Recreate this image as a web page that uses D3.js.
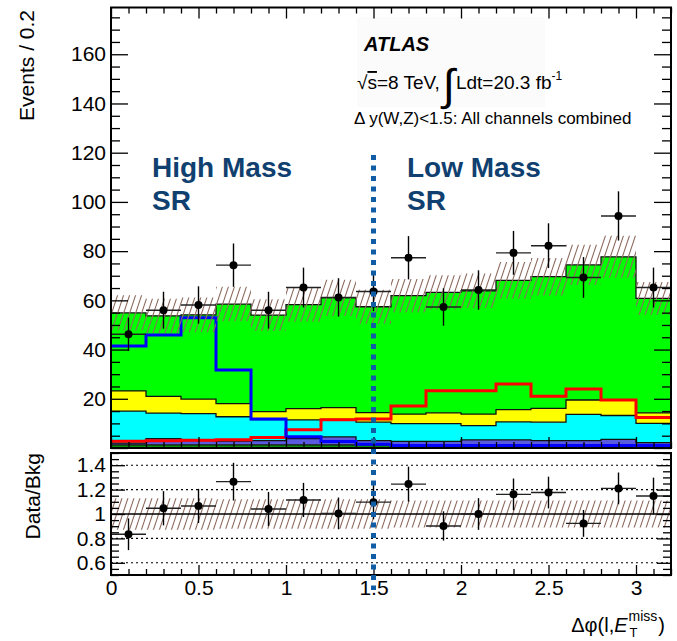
<!DOCTYPE html>
<html><head><meta charset="utf-8">
<script src="https://cdn.jsdelivr.net/npm/d3@7"></script>
<style>
body{margin:0;background:#fff}
svg{display:block}
text{font-family:"Liberation Sans",Arial,Helvetica,sans-serif}
</style>
</head><body>
<svg id="c" width="677" height="641"></svg>
<script>
// ---------------- data ----------------
const binCenters = [0.1,0.3,0.5,0.7,0.9,1.1,1.3,1.5,1.7,1.9,2.1,2.3,2.5,2.7,2.9,3.1];
const binWidth = 0.2;
const bkgDarkGreen = [1.3,1.3,1.3,1.3,1.3,1.3,1.3,1.3,0,0,0,0,0,0,0,0];
const bkgSlate     = [0.7,2.5,1.7,1.5,1.7,2.5,3.2,1.7,2.7,2.7,3.3,3.3,3.0,3.0,3.5,2.2];
const bkgCyan      = [13.0,10.4,11.0,9.9,8.5,7.6,7.1,7.5,7.2,7.2,5.8,7.3,7.5,10.7,9.7,7.8];
const bkgYellow    = [8.2,6.8,5.9,5.3,3.3,4.6,4.8,3.9,3.9,4.4,4.7,5.0,5.6,5.8,6.3,4.3];
const bkgGreen     = [31.7,32.7,34.2,40.5,39.2,42.3,44.6,43.0,48.1,48.9,50.1,52.5,53.5,54.9,58.2,46.5];
const sigHighMass  = [41.4,45.9,52.9,31.7,11.8,4.6,2.6,1.5,1.0,1.0,1.0,1.0,1.0,1.0,1.0,1.0];
const sigLowMass   = [2.7,2.9,3.1,3.4,4.3,7.4,11.5,11.8,17.1,23.3,23.3,26.0,21.0,24.0,19.5,12.4];
const dataVals     = [46.2,56.0,58.1,74.3,56.0,65.2,61.2,63.6,77.3,57.3,64.2,79.3,82.2,69.3,94.3,65.2];
const dataErr      = [6.8,7.5,7.6,8.8,7.5,8.1,7.8,8.0,8.8,7.6,8.0,8.9,9.1,8.3,10.0,8.1];
const relUnc       = [0.13,0.13,0.13,0.12,0.12,0.12,0.12,0.12,0.11,0.11,0.11,0.11,0.11,0.11,0.11,0.11];
const ratioVals    = [0.834,1.047,1.066,1.265,1.041,1.115,1.005,1.097,1.245,0.902,1.0,1.161,1.176,0.923,1.21,1.148];
const ratioErr     = [0.13,0.14,0.14,0.155,0.14,0.14,0.13,0.14,0.143,0.12,0.13,0.13,0.13,0.11,0.13,0.15];
const xTickValues  = [0,0.5,1,1.5,2,2.5,3];
const xTickLabels  = ["0","0.5","1","1.5","2","2.5","3"];
const yTickValues  = [20,40,60,80,100,120,140,160];
const yTickLabels  = ["20","40","60","80","100","120","140","160"];
const rTickValues  = [0.6,0.8,1,1.2,1.4];
const rTickLabels  = ["0.6","0.8","1","1.2","1.4"];
const rGridValues  = [0.6,0.8,1.2,1.4];
const srBoundary   = 1.5;

// ---------------- layout ----------------
const svg = d3.select("#c");
const X0=111, X1=671, YT=7.5, YB=448, RT=453, RB=575;
const x  = d3.scaleLinear().domain([0,3.2]).range([X0,X1]);
const y  = d3.scaleLinear().domain([0,179]).range([YB,YT]);
const yr = d3.scaleLinear().domain([0.5,1.5]).range([RB,RT]);

const defs = svg.append("defs");
const pat = defs.append("pattern").attr("id","hatch").attr("patternUnits","userSpaceOnUse")
  .attr("width",6).attr("height",18);
[[0,6],[-6,0],[6,12]].forEach(([a,b])=>{
  pat.append("line").attr("x1",a).attr("y1",18).attr("x2",b).attr("y2",0)
    .attr("stroke","#8e6b60").attr("stroke-width",1.1);
});
defs.append("clipPath").attr("id","clipMain").append("rect")
  .attr("x",X0).attr("y",YT).attr("width",X1-X0).attr("height",YB-YT);
defs.append("clipPath").attr("id","clipRatio").append("rect")
  .attr("x",X0).attr("y",RT).attr("width",X1-X0).attr("height",RB-RT);
const blur = defs.append("filter").attr("id","glow").attr("x","-200%").attr("width","500%");
blur.append("feGaussianBlur").attr("stdDeviation",3);

// faint text box behind ATLAS label
svg.append("rect").attr("x",357).attr("y",17).attr("width",188).attr("height",90).attr("fill","#fbfbfb");

// ---------------- main panel ----------------
const rows = binCenters.map((c,i)=>({c, darkGreen:bkgDarkGreen[i], slate:bkgSlate[i], cyan:bkgCyan[i], yellow:bkgYellow[i], green:bkgGreen[i]}));
const keys = ["darkGreen","slate","cyan","yellow","green"];
const colors = {darkGreen:"#0b8a0b", slate:"#5a5ade", cyan:"#00ffff", yellow:"#ffff00", green:"#00ff00"};
const stacked = d3.stack().keys(keys)(rows);

function stepPoints(lo, hi){
  const pts=[];
  binCenters.forEach((c,i)=>{
    pts.push({xv:c-binWidth/2, y0:lo[i], y1:hi[i]});
    pts.push({xv:c+binWidth/2, y0:lo[i], y1:hi[i]});
  });
  return pts;
}
const areaMain = d3.area().x(d=>x(d.xv)).y0(d=>y(d.y0)).y1(d=>y(d.y1));
const lineMain = d3.line().x(d=>x(d.xv)).y(d=>y(d.y1));

const gMain = svg.append("g").attr("clip-path","url(#clipMain)");
stacked.forEach(s=>{
  const pts = stepPoints(s.map(d=>d[0]), s.map(d=>d[1]));
  gMain.append("path").attr("d",areaMain(pts)).attr("fill",colors[s.key]).attr("stroke","none");
});
stacked.forEach(s=>{
  const pts = stepPoints(s.map(d=>d[0]), s.map(d=>d[1]));
  gMain.append("path").attr("d",lineMain(pts)).attr("fill","none").attr("stroke","#111").attr("stroke-width",1.3);
});
const totals = stacked[stacked.length-1].map(d=>d[1]);

// signal overlays
const zeros = binCenters.map(()=>0);
gMain.append("path").attr("d",lineMain(stepPoints(zeros,sigLowMass)))
  .attr("fill","none").attr("stroke","#ff0000").attr("stroke-width",3);
gMain.append("path").attr("d",lineMain(stepPoints(zeros,sigHighMass)))
  .attr("fill","none").attr("stroke","#0000ff").attr("stroke-width",3);

// uncertainty band
gMain.append("path").attr("d",areaMain(stepPoints(totals.map((t,i)=>t*(1-relUnc[i])), totals.map((t,i)=>t*(1+relUnc[i])))))
  .attr("fill","url(#hatch)").attr("stroke","none");

// data points
const gData = svg.append("g");
binCenters.forEach((c,i)=>{
  gData.append("line").attr("x1",x(c)).attr("x2",x(c)).attr("y1",y(dataVals[i]-dataErr[i])).attr("y2",y(dataVals[i]+dataErr[i]))
    .attr("stroke","#000").attr("stroke-width",1.4);
  gData.append("line").attr("x1",x(c-binWidth/2)).attr("x2",x(c+binWidth/2)).attr("y1",y(dataVals[i])).attr("y2",y(dataVals[i]))
    .attr("stroke","#222").attr("stroke-width",1.4);
  gData.append("circle").attr("cx",x(c)).attr("cy",y(dataVals[i])).attr("r",4).attr("fill","#000");
});

// ---------------- ratio panel ----------------
const gRatio = svg.append("g").attr("clip-path","url(#clipRatio)");
const areaR = d3.area().x(d=>x(d.xv)).y0(d=>yr(d.y0)).y1(d=>yr(d.y1));
gRatio.append("path").attr("d",areaR(stepPoints(relUnc.map(u=>1-u), relUnc.map(u=>1+u))))
  .attr("fill","url(#hatch)");
rGridValues.forEach(v=>{
  gRatio.append("line").attr("x1",X0).attr("x2",X1).attr("y1",yr(v)).attr("y2",yr(v))
    .attr("stroke","#000").attr("stroke-width",1.1).attr("stroke-dasharray","2,3");
});
gRatio.append("line").attr("x1",X0).attr("x2",X1).attr("y1",yr(1)).attr("y2",yr(1))
  .attr("stroke","#000").attr("stroke-width",1.4);
binCenters.forEach((c,i)=>{
  gRatio.append("line").attr("x1",x(c)).attr("x2",x(c)).attr("y1",yr(ratioVals[i]-ratioErr[i])).attr("y2",yr(ratioVals[i]+ratioErr[i]))
    .attr("stroke","#000").attr("stroke-width",1.4);
  gRatio.append("line").attr("x1",x(c-binWidth/2)).attr("x2",x(c+binWidth/2)).attr("y1",yr(ratioVals[i])).attr("y2",yr(ratioVals[i]))
    .attr("stroke","#222").attr("stroke-width",1.4);
  gRatio.append("circle").attr("cx",x(c)).attr("cy",yr(ratioVals[i])).attr("r",4).attr("fill","#000");
});

// ---------------- frames & axes ----------------
svg.append("rect").attr("x",X0).attr("y",YT).attr("width",X1-X0).attr("height",YB-YT)
  .attr("fill","none").attr("stroke","#000").attr("stroke-width",2);
svg.append("rect").attr("x",X0).attr("y",RT).attr("width",X1-X0).attr("height",RB-RT)
  .attr("fill","none").attr("stroke","#000").attr("stroke-width",2);

function tickGroup(tx,ty,axis){
  const g = svg.append("g").attr("transform",`translate(${tx},${ty})`).call(axis);
  g.select(".domain").remove();
  g.selectAll("line").attr("stroke","#000").attr("stroke-width",1.3);
  return g;
}
const yMajor = d3.range(0,180,20), yMinor = d3.range(0,180,5).filter(v=>v%20!==0);
const xMajor = d3.range(0,3.21,0.5), xMinor = d3.range(0,3.21,0.1).filter(v=>Math.abs(v*2-Math.round(v*2))>0.01);
const rMajor = [0.6,0.8,1.0,1.2,1.4], rMinor = d3.range(0.5,1.501,0.05).filter(v=>!rMajor.some(m=>Math.abs(m-v)<1e-6));

tickGroup(X0,0,d3.axisRight(y).tickValues(yMajor).tickSize(17).tickFormat(""));
tickGroup(X0,0,d3.axisRight(y).tickValues(yMinor).tickSize(9).tickFormat(""));
tickGroup(X1,0,d3.axisLeft(y).tickValues(yMajor).tickSize(17).tickFormat(""));
tickGroup(X1,0,d3.axisLeft(y).tickValues(yMinor).tickSize(9).tickFormat(""));
tickGroup(0,YT,d3.axisBottom(x).tickValues(xMajor).tickSize(11).tickFormat(""));
tickGroup(0,YT,d3.axisBottom(x).tickValues(xMinor).tickSize(6).tickFormat(""));
tickGroup(0,YB,d3.axisTop(x).tickValues(xMajor).tickSize(11).tickFormat(""));
tickGroup(0,YB,d3.axisTop(x).tickValues(xMinor).tickSize(6).tickFormat(""));
tickGroup(X0,0,d3.axisRight(yr).tickValues(rMajor).tickSize(14).tickFormat(""));
tickGroup(X0,0,d3.axisRight(yr).tickValues(rMinor).tickSize(8).tickFormat(""));
tickGroup(X1,0,d3.axisLeft(yr).tickValues(rMajor).tickSize(14).tickFormat(""));
tickGroup(X1,0,d3.axisLeft(yr).tickValues(rMinor).tickSize(8).tickFormat(""));
tickGroup(0,RB,d3.axisTop(x).tickValues(xMajor).tickSize(10).tickFormat(""));
tickGroup(0,RB,d3.axisTop(x).tickValues(xMinor).tickSize(6).tickFormat(""));

function labelGroup(tx,ty,axis){
  const g = svg.append("g").attr("transform",`translate(${tx},${ty})`).call(axis);
  g.select(".domain").remove();
  g.selectAll("line").remove();
  g.selectAll("text").attr("font-size",21).attr("fill","#000")
    .attr("font-family",'"Liberation Sans",Arial,sans-serif');
  return g;
}
labelGroup(X0,0,d3.axisLeft(y).tickValues(yTickValues).tickSize(0).tickPadding(5).tickFormat((d,i)=>yTickLabels[i]));
labelGroup(X0,0,d3.axisLeft(yr).tickValues(rTickValues).tickSize(0).tickPadding(5).tickFormat((d,i)=>rTickLabels[i]));
labelGroup(0,RB,d3.axisBottom(x).tickValues(xTickValues).tickSize(0).tickPadding(5).tickFormat((d,i)=>xTickLabels[i]));

// axis titles
svg.append("text").attr("transform","translate(33.5,10) rotate(-90)").attr("text-anchor","end")
  .attr("font-size",21).text("Events / 0.2");
svg.append("text").attr("transform","translate(39.5,453) rotate(-90)").attr("text-anchor","end")
  .attr("font-size",21).text("Data/Bkg");

// x title: Δφ(l,E_T^miss)
const xt = svg.append("g");
const t1 = xt.append("text").attr("x",0).attr("y",0).attr("font-size",20).text("Δφ(l,");
const w1 = t1.node().getComputedTextLength();
const tE = xt.append("text").attr("x",w1).attr("y",0).attr("font-size",20).attr("font-style","italic").text("E");
const wE = tE.node().getComputedTextLength();
const tM = xt.append("text").attr("x",w1+wE+1).attr("y",-11).attr("font-size",14).text("miss");
const wM = tM.node().getComputedTextLength();
xt.append("text").attr("x",w1+wE+2).attr("y",5).attr("font-size",13).text("T");
const tP = xt.append("text").attr("x",w1+wE+wM+2).attr("y",0).attr("font-size",20).text(")");
const wTot = w1+wE+wM+2+tP.node().getComputedTextLength();
xt.attr("transform",`translate(${665-wTot},632)`);

// ATLAS labels
svg.append("text").attr("x",364).attr("y",51).attr("font-size",20).attr("font-weight","bold").attr("font-style","italic").text("ATLAS");
const lumi = svg.append("g");
const s1 = lumi.append("text").attr("x",357).attr("y",89).attr("font-size",19);
s1.append("tspan").text("√");
s1.append("tspan").attr("text-decoration","overline").text("s");
s1.append("tspan").text("=8 TeV,");
const ws1 = s1.node().getComputedTextLength();
const integ = lumi.append("text").attr("x",357+ws1+3).attr("y",100).attr("font-size",44).text("∫");
const wi = integ.node().getComputedTextLength();
const s2 = lumi.append("text").attr("x",357+ws1+3+wi+1).attr("y",89).attr("font-size",19);
s2.append("tspan").text("Ldt=20.3 fb");
s2.append("tspan").attr("font-size",12).attr("dy",-9).text("-1");
svg.append("text").attr("x",354).attr("y",124).attr("font-size",17).text("Δ y(W,Z)<1.5: All channels combined");

// region labels
const srColor = "#0f406f";
[["High Mass",152],["Low Mass",407]].forEach(([lab,px])=>{
  svg.append("text").attr("x",px).attr("y",177).attr("font-size",28).attr("font-weight","bold").attr("fill",srColor).text(lab);
  svg.append("text").attr("x",px).attr("y",210).attr("font-size",28).attr("font-weight","bold").attr("fill",srColor).text("SR");
});

// SR boundary dashed line
svg.append("line").attr("x1",x(srBoundary)).attr("x2",x(srBoundary)).attr("y1",155).attr("y2",590)
  .attr("stroke","#9cc3e6").attr("stroke-width",8).attr("opacity",0.4).attr("filter","url(#glow)");
svg.append("line").attr("x1",x(srBoundary)).attr("x2",x(srBoundary)).attr("y1",155).attr("y2",590)
  .attr("stroke","#105da6").attr("stroke-width",5).attr("stroke-dasharray","5,5.5");
</script>
</body></html>
